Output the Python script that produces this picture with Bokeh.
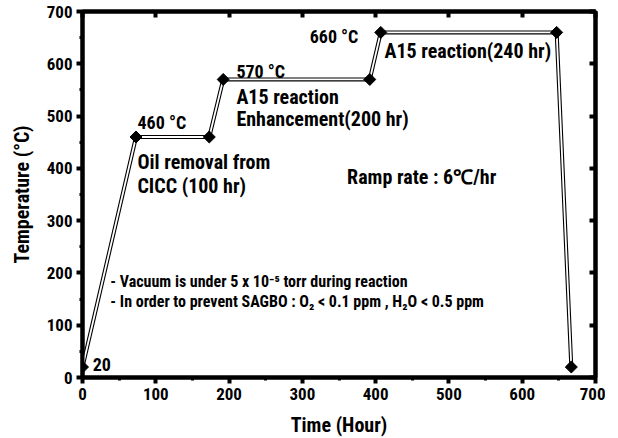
import math
from bokeh.plotting import figure
from bokeh.models import LinearAxis, Range1d, FixedTicker, ColumnDataSource
from bokeh.core.properties import value
from bokeh.embed import file_html
from bokeh.resources import INLINE

# ---- data ----
time_hr = [0, 73, 173, 192, 392, 407, 647, 667]
temp_c = [20, 460, 460, 570, 570, 660, 660, 20]

x_ticks = [0, 100, 200, 300, 400, 500, 600, 700]
y_ticks = [0, 100, 200, 300, 400, 500, 600, 700]

temp_text = ["460 °C", "570 °C", "660 °C", "20"]
temp_x = [75, 210, 310, 14]
temp_y = [487, 585, 653, 25]

desc_text = ["Oil removal from", "CICC (100 hr)", "A15 reaction", "Enhancement(200 hr)",
             "A15 reaction(240 hr)", "Ramp rate : 6℃/hr"]
desc_x = [75, 75, 210, 210, 412, 361]
desc_y = [412, 367, 537, 495, 625, 384]

note_text = ["-  Vacuum is under 5 x 10⁻⁵ torr  during reaction",
             "-  In order to prevent SAGBO :   O₂  < 0.1 ppm ,  H₂O  < 0.5 ppm"]
note_x = [38, 38]
note_y = [184, 145]

FONT = "'Roboto Condensed', 'Liberation Sans Narrow', 'Lato', sans-serif"

p = figure(frame_width=513, frame_height=366, output_backend="svg", toolbar_location=None,
           x_range=Range1d(0, 700), y_range=Range1d(0, 700),
           min_border_left=82, min_border_right=10, min_border_top=11, min_border_bottom=10)
p.xgrid.visible = False
p.ygrid.visible = False
p.outline_line_color = "black"
p.outline_line_width = 4
p.background_fill_color = "white"
p.border_fill_color = "white"

for ax, ticks in ((p.xaxis[0], x_ticks), (p.yaxis[0], y_ticks)):
    ax.ticker = FixedTicker(ticks=ticks, minor_ticks=[t + 50 for t in ticks[:-1]])
    ax.axis_line_width = 4
    ax.major_tick_line_width = 4
    ax.minor_tick_line_width = 3
    ax.major_tick_out = 6
    ax.major_tick_in = 0
    ax.minor_tick_out = 3
    ax.minor_tick_in = 0
    ax.major_label_text_font = FONT
    ax.major_label_text_font_style = "bold"
    ax.major_label_text_font_size = "17px"
    ax.major_label_text_color = "black"
    ax.axis_label_text_font = FONT
    ax.axis_label_text_font_style = "bold"
    ax.axis_label_text_font_size = "20px"
    ax.axis_label_text_color = "black"
    ax.major_label_standoff = 4
    ax.axis_label_standoff = 10

p.xaxis[0].axis_label = "Time (Hour)"
p.yaxis[0].axis_label = "Temperature (°C)"

top = LinearAxis(ticker=FixedTicker(ticks=x_ticks), major_label_overrides={t: "" for t in x_ticks},
                 major_tick_in=6, major_tick_out=0, minor_tick_line_color=None,
                 axis_line_width=4, major_tick_line_width=4, major_label_standoff=0,
                 major_label_text_font_size="6px")
right = LinearAxis(ticker=FixedTicker(ticks=y_ticks), major_label_overrides={t: "" for t in y_ticks},
                   major_tick_in=6, major_tick_out=0, minor_tick_line_color=None,
                   axis_line_width=4, major_tick_line_width=4, major_label_standoff=0,
                   major_label_text_font_size="6px")
p.add_layout(top, "above")
p.add_layout(right, "right")

src = ColumnDataSource(dict(x=time_hr, y=temp_c))
p.line("x", "y", source=src, line_color="black", line_width=4)
p.line("x", "y", source=src, line_color="white", line_width=1.8)
p.scatter("x", "y", source=src, marker="square", size=8.5, angle=math.pi / 4, color="black")

tsrc = ColumnDataSource(dict(x=temp_x, y=temp_y, t=temp_text))
p.text("x", "y", text="t", source=tsrc, text_font=value(FONT), text_font_style="bold",
       text_font_size="18px", text_baseline="alphabetic", text_align="left", text_color="black")

dsrc = ColumnDataSource(dict(x=desc_x, y=desc_y, t=desc_text))
p.text("x", "y", text="t", source=dsrc, text_font=value(FONT), text_font_style="bold",
       text_font_size="20px", text_baseline="alphabetic", text_align="left", text_color="black")

nsrc = ColumnDataSource(dict(x=note_x, y=note_y, t=note_text))
p.text("x", "y", text="t", source=nsrc, text_font=value(FONT), text_font_style="bold",
       text_font_size="16px", text_baseline="alphabetic", text_align="left", text_color="black")

open("out.html", "w").write(file_html(p, INLINE))
